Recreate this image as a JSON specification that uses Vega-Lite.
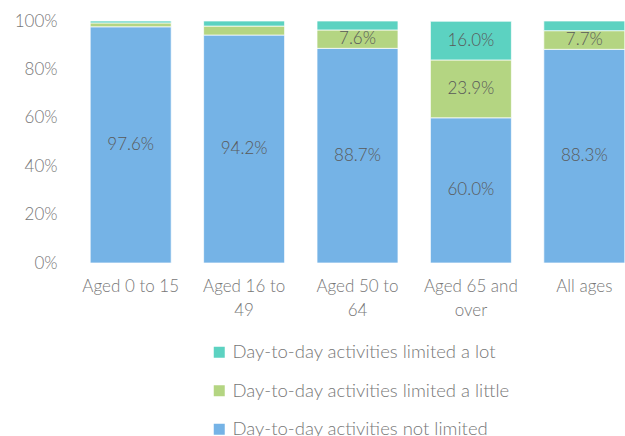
{
  "$schema": "https://vega.github.io/schema/vega-lite/v6.json",
  "autosize": {"type": "none"},
  "width": 567,
  "height": 242,
  "padding": {"left": 74, "top": 21, "right": 0, "bottom": 173},
  "background": "white",
  "config": {
    "view": {"stroke": null},
    "font": "Lato",
    "text": {"font": "Lato"}
  },
  "data": {
    "values": [
      {"age": "Aged 0 to 15", "status": "Day-to-day activities not limited", "value": 97.6, "ord": 1},
      {"age": "Aged 0 to 15", "status": "Day-to-day activities limited a little", "value": 1.6, "ord": 2},
      {"age": "Aged 0 to 15", "status": "Day-to-day activities limited a lot", "value": 0.8, "ord": 3},
      {"age": "Aged 16 to 49", "status": "Day-to-day activities not limited", "value": 94.2, "ord": 1},
      {"age": "Aged 16 to 49", "status": "Day-to-day activities limited a little", "value": 3.7, "ord": 2},
      {"age": "Aged 16 to 49", "status": "Day-to-day activities limited a lot", "value": 2.1, "ord": 3},
      {"age": "Aged 50 to 64", "status": "Day-to-day activities not limited", "value": 88.7, "ord": 1},
      {"age": "Aged 50 to 64", "status": "Day-to-day activities limited a little", "value": 7.6, "ord": 2},
      {"age": "Aged 50 to 64", "status": "Day-to-day activities limited a lot", "value": 3.7, "ord": 3},
      {"age": "Aged 65 and over", "status": "Day-to-day activities not limited", "value": 60.0, "ord": 1},
      {"age": "Aged 65 and over", "status": "Day-to-day activities limited a little", "value": 23.9, "ord": 2},
      {"age": "Aged 65 and over", "status": "Day-to-day activities limited a lot", "value": 16.0, "ord": 3},
      {"age": "All ages", "status": "Day-to-day activities not limited", "value": 88.3, "ord": 1},
      {"age": "All ages", "status": "Day-to-day activities limited a little", "value": 7.7, "ord": 2},
      {"age": "All ages", "status": "Day-to-day activities limited a lot", "value": 4.0, "ord": 3}
    ]
  },
  "encoding": {
    "x": {
      "field": "age", "type": "nominal", "sort": null,
      "scale": {"paddingInner": 0.286, "paddingOuter": 0.143},
      "axis": {
        "title": null, "domain": false, "ticks": false, "labelAngle": 0,
        "labelFont": "Lato", "labelFontWeight": 300, "labelFontSize": 17, "labelColor": "#777777",
        "labelPadding": 15, "labelLineHeight": 24,
        "labelExpr": "datum.value == 'Aged 16 to 49' ? ['Aged 16 to', '49'] : datum.value == 'Aged 50 to 64' ? ['Aged 50 to', '64'] : datum.value == 'Aged 65 and over' ? ['Aged 65 and', 'over'] : datum.value"
      }
    },
    "y": {
      "field": "value", "type": "quantitative", "stack": "zero",
      "scale": {"domain": [0, 100]},
      "axis": {
        "title": null, "domain": false, "ticks": false, "grid": false,
        "values": [0, 20, 40, 60, 80, 100], "labelExpr": "datum.value + '%'",
        "labelFont": "Lato", "labelFontWeight": 300, "labelFontSize": 17, "labelColor": "#777777",
        "labelPadding": 17
      }
    },
    "order": {"field": "ord", "type": "quantitative"}
  },
  "layer": [
    {
      "mark": {"type": "bar", "stroke": "white", "strokeWidth": 0.7},
      "encoding": {
        "color": {
          "field": "status", "type": "nominal",
          "scale": {
            "domain": ["Day-to-day activities limited a lot", "Day-to-day activities limited a little", "Day-to-day activities not limited"],
            "range": ["#5cd2c1", "#b4d582", "#75b3e6"]
          },
          "legend": {
            "title": null, "orient": "none", "legendX": 136, "legendY": 322,
            "direction": "vertical", "symbolType": "square", "symbolSize": 121,
            "symbolStrokeWidth": 0, "labelFont": "Lato", "labelFontWeight": 300,
            "labelFontSize": 18.5, "labelColor": "#777777", "labelLimit": 500,
            "rowPadding": 19.5, "labelOffset": 4
          }
        }
      }
    },
    {
      "transform": [
        {"filter": "datum.value >= 5"},
        {"calculate": "format(datum.value, '.1f') + '%'", "as": "label"}
      ],
      "mark": {"type": "text", "font": "Lato", "fontWeight": 300, "fontSize": 17, "color": "#595959", "baseline": "middle"},
      "encoding": {
        "y": {"field": "value", "type": "quantitative", "stack": "zero", "bandPosition": 0.5},
        "text": {"field": "label", "type": "nominal"}
      }
    }
  ]
}
